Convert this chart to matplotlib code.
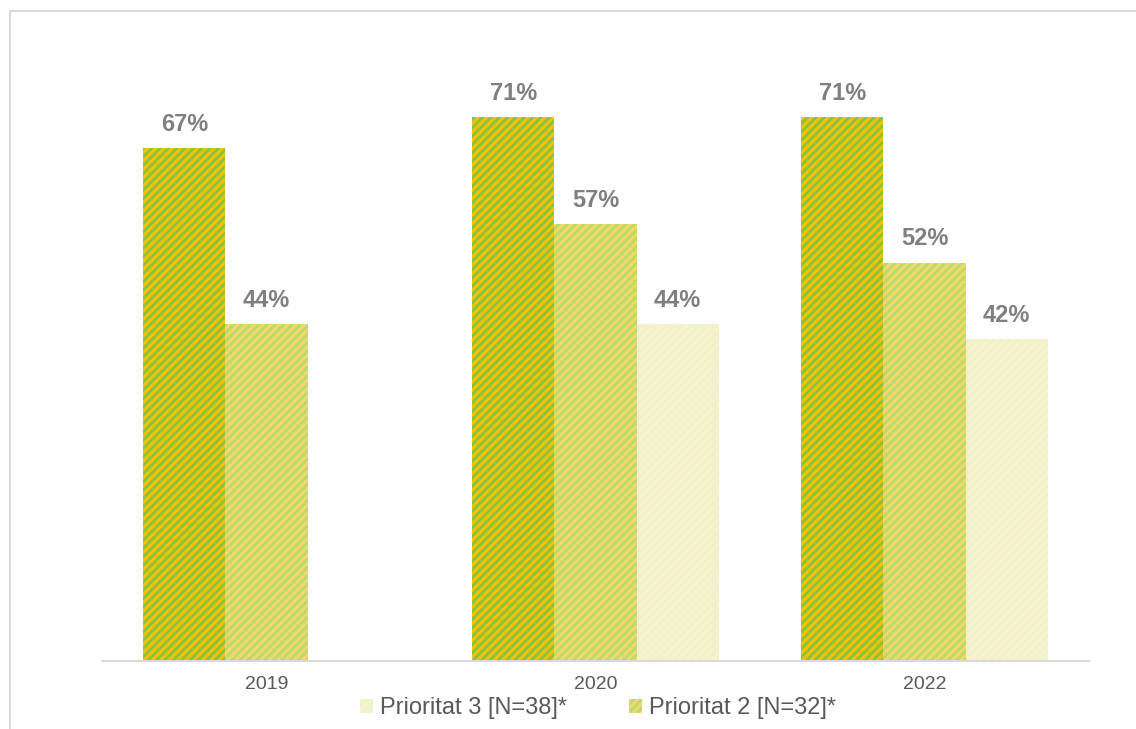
import matplotlib
matplotlib.use("Agg")
import matplotlib.pyplot as plt
import numpy as np
from matplotlib.lines import Line2D

plt.rcParams['font.family'] = ['Liberation Sans', 'DejaVu Sans']
plt.rcParams['hatch.linewidth'] = 2.1

years = ['2019', '2020', '2022']
prio1 = [67, 71, 71]
prio2 = [44, 57, 52]
prio3 = [np.nan, 44, 42]
labels = ['Prioritat 1', 'Prioritat 2 [N=32]*', 'Prioritat 3 [N=38]*']

W, H = 1136, 729
fig = plt.figure(figsize=(W / 100, H / 100), dpi=100)
ax = fig.add_axes([102 / W, (H - 661) / H, (1089 - 102) / W, (661 - 48) / H])

x = np.arange(len(years))
bw = 0.25
styles = [
    dict(face='#FFC000', hatch_c='#86C440'),
    dict(face='#FAD66A', hatch_c='#B6DC6C'),
    dict(face='#FDF0C8', hatch_c='#EAF3CE'),
]
series = [prio1, prio2, prio3]
bars = []
for i, (vals, st, lab) in enumerate(zip(series, styles, labels)):
    b = ax.bar(x + (i - 1) * bw, vals, width=bw, color=st['face'],
               edgecolor=st['hatch_c'], hatch='////', linewidth=0, label=lab)
    bars.append(b)
    for xi, v in zip(x, vals):
        if np.isnan(v):
            continue
        ax.annotate(f"{v:.0f}%", (xi + (i - 1) * bw, v), xytext=(0, 17),
                    textcoords='offset points', ha='center', va='center',
                    fontsize=17, fontweight='bold', color='#7F7F7F')

ax.set_xlim(-0.5, 2.5)
ax.set_ylim(0, 80)
ax.set_xticks(x)
ax.set_xticklabels(years, fontsize=14, color='#595959')
ax.tick_params(axis='x', length=0, pad=11)
ax.set_yticks([])
for s in ['top', 'right', 'left']:
    ax.spines[s].set_visible(False)
ax.spines['bottom'].set_color('#D9D9D9')
ax.spines['bottom'].set_linewidth(1.5)

leg = fig.legend([bars[2], bars[1]], [labels[2], labels[1]], loc='center',
                 bbox_to_anchor=(598 / W, (H - 708) / H), ncol=2, frameon=False,
                 fontsize=17, handlelength=0.55, handleheight=0.55,
                 handletextpad=0.3, columnspacing=2.6, labelcolor='#595959')

# outer chart-area border (left and top visible)
fig.add_artist(Line2D([9.5 / W, 9.5 / W], [0, (H - 11) / H], transform=fig.transFigure,
                      color='#D9D9D9', linewidth=1.5))
fig.add_artist(Line2D([9.5 / W, 1], [(H - 11) / H, (H - 11) / H], transform=fig.transFigure,
                      color='#D9D9D9', linewidth=1.5))

fig.savefig('out.png', dpi=100)
